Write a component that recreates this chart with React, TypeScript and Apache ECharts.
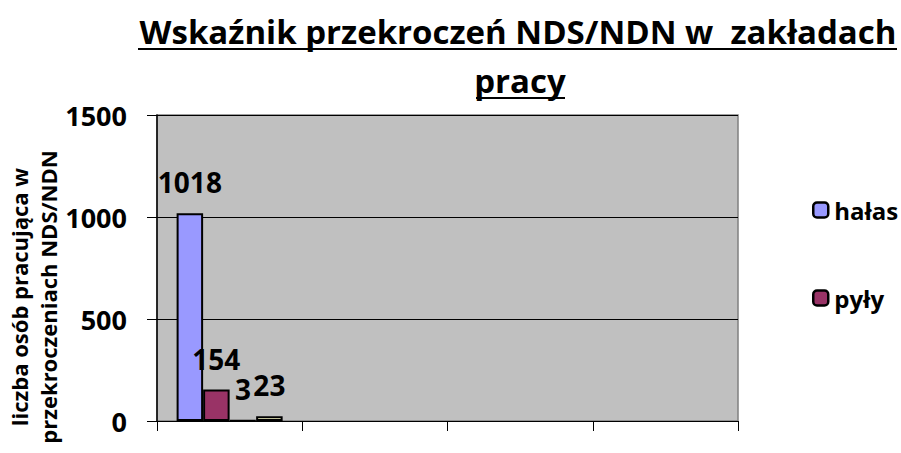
import React, { useEffect, useRef } from "react";
import * as echarts from "echarts";

const categories = ["1", "2", "3", "4"];
const halas = [1018, null, null, null];
const pyly = [154, null, null, null];
const seria3 = [3, null, null, null];
const seria4 = [23, null, null, null];
const yTicks = { min: 0, max: 1500, interval: 500 };
const titleLine1 = "Wskaźnik przekroczeń NDS/NDN w  zakładach";
const titleLine2 = "pracy";
const yAxisTitle = "liczba osób pracująca w\nprzekroczeniach NDS/NDN";

const FONT = "'Open Sans', 'DejaVu Sans', sans-serif";

export default function App() {
  const ref = useRef<HTMLDivElement>(null);
  useEffect(() => {
    if (!ref.current) return;
    const chart = echarts.init(ref.current, null, { renderer: "svg" });
    const labelStyle = {
      show: true,
      position: "top" as const,
      distance: 17,
      fontFamily: FONT,
      fontWeight: "bold" as const,
      fontSize: 28,
      color: "#000",
    };
    const mk = (name: string, data: (number | null)[], color: string) => ({
      name,
      type: "bar" as const,
      data,
      barGap: "0%",
      barCategoryGap: "27%",
      itemStyle: { color, borderColor: "#000", borderWidth: 2 },
      label: labelStyle,
    });
    chart.setOption({
      animation: false,
      backgroundColor: "#fff",
      textStyle: { fontFamily: FONT },
      grid: {
        left: 157,
        top: 115,
        right: 163,
        bottom: 32,
        show: true,
        backgroundColor: "#C0C0C0",
        borderColor: "#808080",
        borderWidth: 1.5,
      },
      legend: {
        data: ["hałas", "pyły"],
        orient: "vertical",
        left: 807,
        top: 192,
        itemWidth: 15,
        itemHeight: 15,
        itemGap: 62,
        itemStyle: { borderColor: "#000", borderWidth: 2.5 },
        textStyle: {
          fontFamily: FONT,
          fontWeight: "bold",
          fontSize: 24,
          color: "#000",
          lineHeight: 26,
          padding: [0, 0, 0, 1],
        },
      },
      xAxis: {
        type: "category",
        data: categories,
        axisLine: { show: true, lineStyle: { color: "#000", width: 1 } },
        axisTick: { show: true, length: 10, lineStyle: { color: "#000" } },
        axisLabel: { show: false },
        splitLine: { show: false },
      },
      yAxis: {
        type: "value",
        min: yTicks.min,
        max: yTicks.max,
        interval: yTicks.interval,
        axisLine: { show: true, lineStyle: { color: "#000", width: 1.5 } },
        axisTick: { show: true, length: 10, lineStyle: { color: "#000" } },
        axisLabel: {
          margin: 30,
          fontFamily: FONT,
          fontWeight: "bold",
          fontSize: 27,
          color: "#000",
          formatter: (v: number) => String(v),
        },
        splitLine: { show: true, lineStyle: { color: "#000", width: 1 } },
      },
      series: [
        mk("hałas", halas, "#9999FF"),
        mk("pyły", pyly, "#993366"),
        mk("seria 3", seria3, "#CCFFFF"),
        mk("seria 4", seria4, "#FFFFCC"),
      ],
      graphic: [
        {
          type: "text",
          x: 518,
          y: 31,
          style: {
            text: titleLine1,
            font: `bold 33px ${FONT}`,
            fill: "#000",
            align: "center",
            verticalAlign: "middle",
          },
        },
        {
          type: "line",
          shape: { x1: 138, y1: 49, x2: 897, y2: 49 },
          style: { stroke: "#000", lineWidth: 2 },
        },
        {
          type: "text",
          x: 520,
          y: 80,
          style: {
            text: titleLine2,
            font: `bold 33px ${FONT}`,
            fill: "#000",
            align: "center",
            verticalAlign: "middle",
          },
        },
        {
          type: "line",
          shape: { x1: 476, y1: 98, x2: 565, y2: 98 },
          style: { stroke: "#000", lineWidth: 2 },
        },
        {
          type: "text",
          x: 33,
          y: 297,
          rotation: Math.PI / 2,
          style: {
            text: yAxisTitle,
            font: `bold 22px ${FONT}`,
            fill: "#000",
            align: "center",
            verticalAlign: "middle",
            lineHeight: 29,
          },
        },
      ],
    });
    return () => chart.dispose();
  }, []);
  return (
    <div
      ref={ref}
      style={{ position: "fixed", left: 0, top: 0, width: 901, height: 453 }}
    />
  );
}
